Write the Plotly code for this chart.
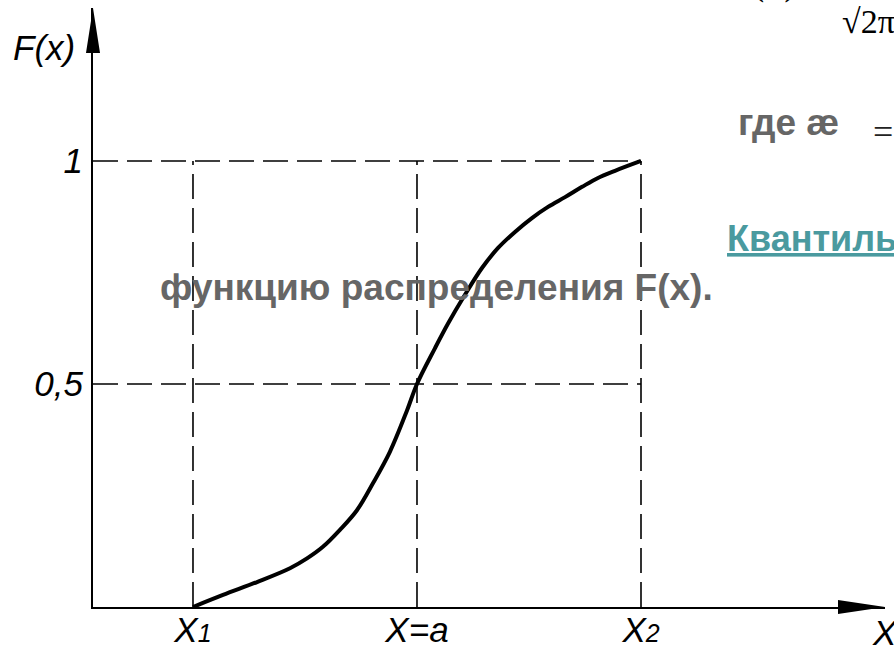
import plotly.graph_objects as go

# ---- data (quantile positions in units where X1=-1, a=0, X2=1) ----
x_ticks = [-1, 0, 1]
x_tick_labels = ["<i>X<span style='font-size:25px'>1</span></i>", "<i>X=a</i>",
                 "<i>X<span style='font-size:25px'>2</span></i>"]
F_levels = [0.5, 1]
F_tick_labels = ["<i>0,5</i>", "<i>1</i>"]

curve_x = [-1.0, -0.866, -0.714, -0.567, -0.491, -0.420, -0.344, -0.268, -0.196,
           -0.121, -0.045, 0.0, 0.080, 0.138, 0.214, 0.290, 0.362, 0.4375, 0.513,
           0.585, 0.661, 0.737, 0.808, 0.884, 1.0]
curve_F = [0.0, 0.027, 0.056, 0.087, 0.109, 0.135, 0.173, 0.217, 0.278,
           0.348, 0.440, 0.5, 0.580, 0.635, 0.700, 0.760, 0.805, 0.841, 0.872,
           0.897, 0.919, 0.942, 0.962, 0.978, 1.0]

W, H = 894, 647
L, R, T, B = 93, 9, 8, 40
X_RANGE = [-1.4464, 2.0893]
Y_RANGE = [0, 1.3430]

def px(x):
    return (x - L) / (W - L - R)

def py(y):
    return (H - B - y) / (H - T - B)

fig = go.Figure()

dash = "25px,9px"
# vertical guide lines
for xv in x_ticks:
    fig.add_trace(go.Scatter(x=[xv, xv], y=[0, max(F_levels)], mode="lines",
                             line=dict(color="black", width=1.6, dash=dash),
                             hoverinfo="skip", showlegend=False))
# horizontal guide lines
for fv in F_levels:
    fig.add_trace(go.Scatter(x=[X_RANGE[0], max(x_ticks)], y=[fv, fv], mode="lines",
                             line=dict(color="black", width=1.6, dash=dash),
                             hoverinfo="skip", showlegend=False))
# distribution curve
fig.add_trace(go.Scatter(x=curve_x, y=curve_F, mode="lines",
                         line=dict(color="black", width=4, shape="spline", smoothing=1.0),
                         hoverinfo="skip", showlegend=False))

tick_font = dict(family="Liberation Sans", size=35, color="black")
fig.update_xaxes(range=X_RANGE, tickvals=x_ticks, ticktext=x_tick_labels, automargin=False,
                 showgrid=False, zeroline=False, showline=True, linecolor="black",
                 linewidth=2, ticks="", tickfont=tick_font, ticklabelstandoff=-9)
fig.update_yaxes(range=Y_RANGE, tickvals=F_levels, ticktext=F_tick_labels, automargin=False,
                 showgrid=False, zeroline=False, showline=True, linecolor="black",
                 linewidth=2, ticks="", tickfont=tick_font, ticklabelstandoff=1)

shapes = [
    dict(type="path", xref="paper", yref="paper", fillcolor="black", line=dict(width=0),
         path=f"M {px(838)},{py(600)} L {px(885)},{py(607)} L {px(838)},{py(614)} Z"),
    dict(type="path", xref="paper", yref="paper", fillcolor="black", line=dict(width=0),
         path=f"M {px(86)},{py(53)} L {px(93)},{py(8)} L {px(100)},{py(53)} Z"),
]

gray = "#666666"
ann = [
    dict(text="<i>F(x)</i>", x=px(11), y=py(48), xanchor="left", yanchor="middle",
         font=dict(family="Liberation Sans", size=35, color="black")),
    dict(text="<b>функцию распределения F(x).</b>", x=px(158), y=py(287),
         xanchor="left", yanchor="middle",
         font=dict(family="Liberation Sans", size=37, color=gray)),
    dict(text="<b>где æ</b>", x=px(736), y=py(122), xanchor="left", yanchor="middle",
         font=dict(family="Liberation Sans", size=37, color=gray)),
    dict(text="=", x=px(871), y=py(132), xanchor="left", yanchor="middle",
         font=dict(family="Liberation Serif", size=36, color="#222222")),
    dict(text="<b>Квантиль</b>", x=px(725), y=py(238), xanchor="left", yanchor="middle",
         font=dict(family="Liberation Sans", size=36, color="#4a9a9f", lineposition="under")),
    dict(text="(x)", x=px(749), y=py(4.5), xanchor="left", yanchor="bottom",
         font=dict(family="Liberation Serif", size=40, color="black")),
    dict(text="√2π", x=px(840), y=py(21), xanchor="left", yanchor="middle",
         font=dict(family="Liberation Serif", size=34, color="black")),
    dict(text="<i>X</i>", x=px(885), y=py(632), xanchor="center", yanchor="middle",
         font=dict(family="Liberation Sans", size=35, color="black")),
]
for a in ann:
    a.update(xref="paper", yref="paper", showarrow=False)

fig.update_layout(width=W, height=H, margin=dict(l=L, r=R, t=T, b=B),
                  plot_bgcolor="white", paper_bgcolor="white",
                  shapes=shapes, annotations=ann, showlegend=False)

fig.write_html("out.html", config={"displayModeBar": False},
               post_script="document.body.style.margin='0';document.body.style.overflow='hidden';")
